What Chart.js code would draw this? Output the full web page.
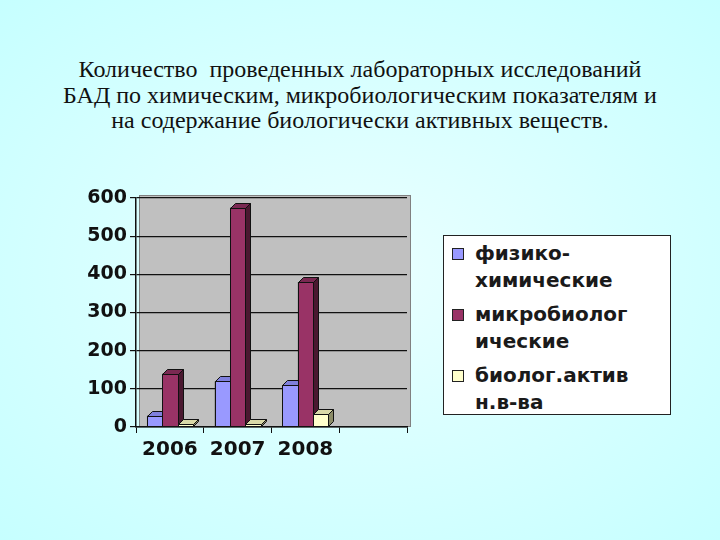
<!DOCTYPE html>
<html>
<head>
<meta charset="utf-8">
<script src="https://cdn.jsdelivr.net/npm/chart.js@4.4.0/dist/chart.umd.min.js"></script>
<style>
  html, body { margin: 0; padding: 0; }
  body {
    width: 720px; height: 540px; overflow: hidden; position: relative;
    background: radial-gradient(ellipse at 50% 50%, #eaffff 0%, #d6ffff 55%, #c6ffff 100%);
  }
  #title {
    position: absolute; left: 0; top: 57px; width: 720px;
    text-align: center; font-family: 'Liberation Serif', 'Times New Roman', serif;
    font-size: 24px; line-height: 25.5px; color: #111;
  }
  #wrap { position: absolute; left: 0; top: 0; width: 720px; height: 540px; }
  #legend {
    position: absolute; left: 443px; top: 235px; width: 226px; height: 178px;
    background: #fff; border: 1.5px solid #222;
    font-family: 'DejaVu Sans', sans-serif; font-weight: bold; font-size: 20px;
    color: #1a1a1a;
  }
  .item { position: absolute; left: 8px; }
  .sw { position: absolute; left: 0; top: 8px; width: 10px; height: 10px; border: 1px solid #222; }
  .txt { position: absolute; left: 23px; top: 0; line-height: 26.5px; white-space: nowrap; }
</style>
</head>
<body>
<div id="title">Количество&nbsp; проведенных лабораторных исследований<br>БАД по химическим, микробиологическим показателям и<br>на содержание биологически активных веществ.</div>
<div id="wrap"><canvas id="chart" width="720" height="540"></canvas></div>
<div id="legend"></div>
<script>
/* ========== Data ========== */
const years = ['2006', '2007', '2008', ''];
const seriesNames = ['физико-химические', 'микробиологические', 'биолог.активн.в-ва'];
const legendLines = [['физико-', 'химические'], ['микробиолог', 'ические'], ['биолог.актив', 'н.в-ва']];
const physChem = [30, 120, 110, null];
const microBio = [140, 575, 380, null];
const bioActive = [8, 8, 35, null];
const yTicks = [0, 100, 200, 300, 400, 500, 600];

/* ========== Colors ========== */
const FRONT = ['#9999ff', '#993366', '#ffffcc'];
const TOP = ['#8080dd', '#7a2952', '#d9d9a8'];
const SIDE = ['#4d4d88', '#4a1830', '#8a8a66'];

/* ========== Plugins ========== */
const wallPlugin = {
  id: 'wall',
  beforeDraw(chart) {
    const { ctx, chartArea: a } = chart;
    ctx.save();
    ctx.fillStyle = '#c0c0c0';
    ctx.fillRect(a.left + 3, a.top - 3, a.right - a.left + 1, a.bottom - a.top + 3);
    ctx.strokeStyle = '#808080';
    ctx.lineWidth = 1;
    ctx.strokeRect(a.left + 3.5, a.top - 2.5, a.right - a.left, a.bottom - a.top + 2);
    ctx.restore();
  }
};

// redraw every bar with a 3D top and side, category by category
const bar3dPlugin = {
  id: 'bar3d',
  afterDatasetsDraw(chart) {
    const { ctx } = chart;
    const d = 5;
    ctx.save();
    ctx.lineWidth = 1;
    ctx.strokeStyle = '#111';
    years.forEach((_, idx) => {
      chart.data.datasets.forEach((ds, i) => {
        const bar = chart.getDatasetMeta(i).data[idx];
        if (ds.data[idx] == null || !bar) return;
        const l = Math.round(bar.x - bar.width / 2) + 0.5;
        const r = Math.round(bar.x + bar.width / 2) + 0.5;
        const t = Math.round(bar.y) + 0.5;
        const b = Math.round(bar.base) + 0.5;
        ctx.fillStyle = FRONT[i];
        ctx.fillRect(l, t, r - l, b - t);
        ctx.strokeRect(l, t, r - l, b - t);
        ctx.beginPath();
        ctx.moveTo(l, t); ctx.lineTo(l + d, t - d); ctx.lineTo(r + d, t - d); ctx.lineTo(r, t);
        ctx.closePath();
        ctx.fillStyle = TOP[i];
        ctx.fill(); ctx.stroke();
        ctx.beginPath();
        ctx.moveTo(r, t); ctx.lineTo(r + d, t - d); ctx.lineTo(r + d, b - d); ctx.lineTo(r, b);
        ctx.closePath();
        ctx.fillStyle = SIDE[i];
        ctx.fill(); ctx.stroke();
      });
    });
    ctx.restore();
  }
};

/* ========== Chart ========== */
const values = [physChem, microBio, bioActive];
new Chart(document.getElementById('chart'), {
  type: 'bar',
  data: {
    labels: years,
    datasets: seriesNames.map((name, i) => ({
      label: name,
      data: values[i],
      backgroundColor: FRONT[i],
      borderColor: '#111',
      borderWidth: 1,
      barPercentage: 1.0,
      categoryPercentage: 0.68
    }))
  },
  options: {
    responsive: false,
    animation: false,
    events: [],
    layout: { padding: { left: 0, top: 198, right: 313, bottom: 73 } },
    plugins: { legend: { display: false }, tooltip: { enabled: false } },
    scales: {
      x: {
        afterFit: s => { s.height = 40; },
        grid: { drawOnChartArea: false, color: '#111', tickLength: 6, offset: true },
        border: { color: '#111', width: 1.5 },
        ticks: { color: '#111', padding: 5, font: { family: 'DejaVu Sans', weight: 'bold', size: 20 } }
      },
      y: {
        min: 0, max: 600,
        afterFit: s => { s.width = 136; },
        afterBuildTicks: s => { s.ticks = yTicks.map(v => ({ value: v })); },
        grid: { color: '#111', lineWidth: 1.2, tickLength: 6 },
        border: { color: '#111', width: 1.5 },
        ticks: { color: '#111', padding: 3, font: { family: 'DejaVu Sans', weight: 'bold', size: 19 } }
      }
    }
  },
  plugins: [wallPlugin, bar3dPlugin]
});

/* ========== Legend ========== */
const legend = document.getElementById('legend');
const itemTops = [4, 65, 126];
legendLines.forEach((lines, i) => {
  const item = document.createElement('div');
  item.className = 'item';
  item.style.top = itemTops[i] + 'px';
  item.innerHTML = '<div class="sw" style="background:' + FRONT[i] + '"></div>' +
    '<div class="txt">' + lines.join('<br>') + '</div>';
  legend.appendChild(item);
});
</script>
</body>
</html>
